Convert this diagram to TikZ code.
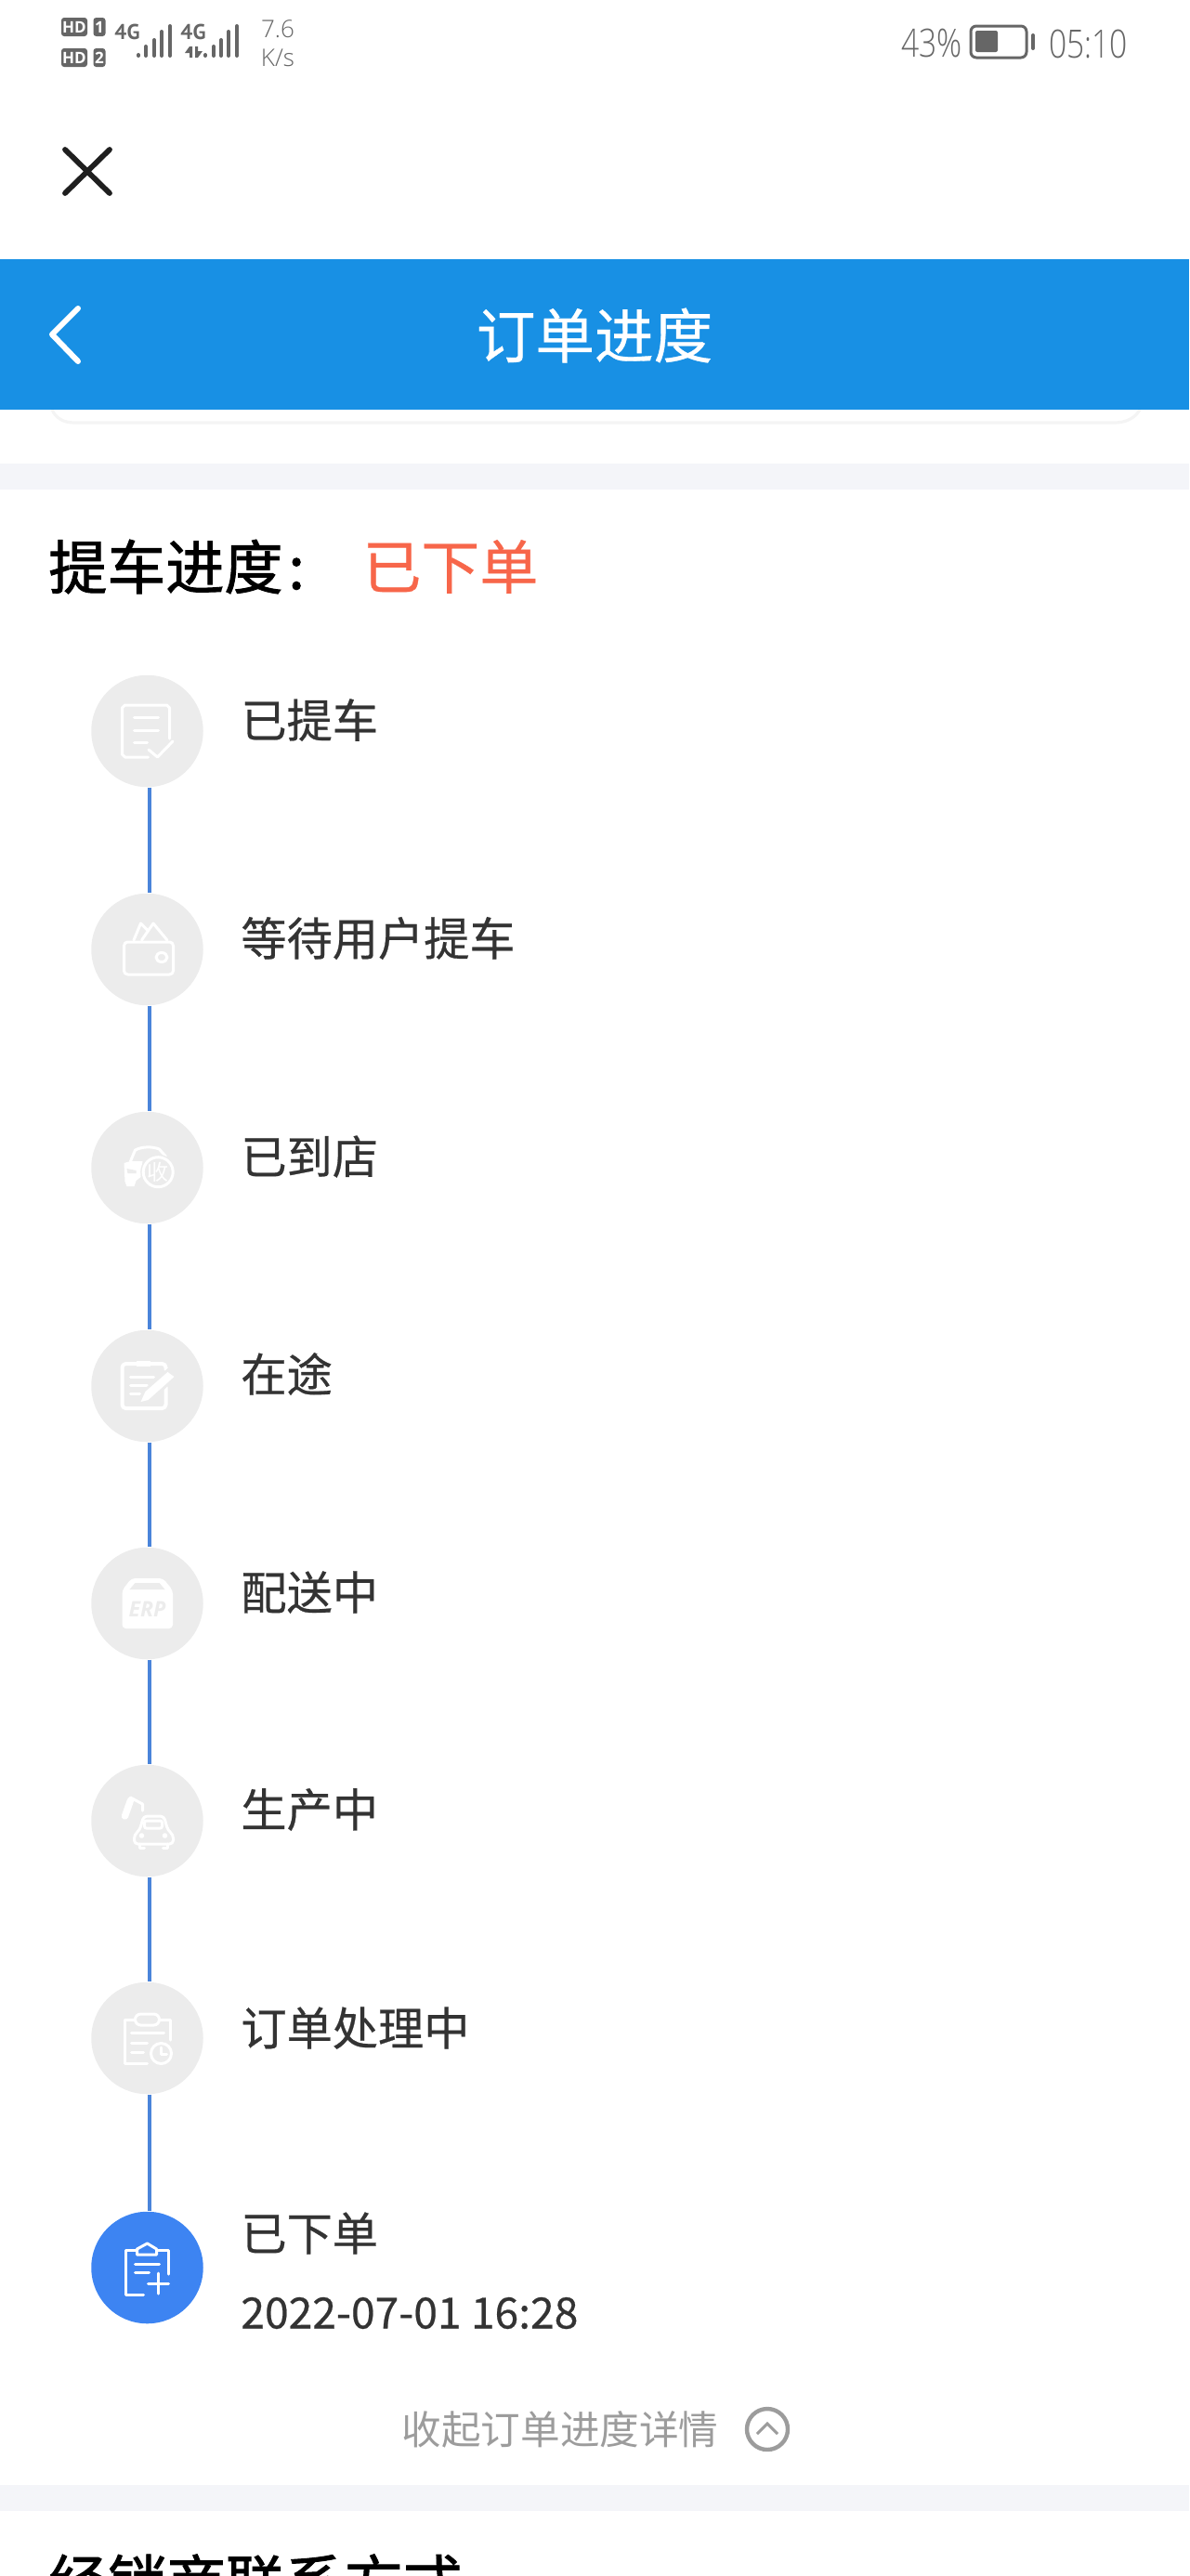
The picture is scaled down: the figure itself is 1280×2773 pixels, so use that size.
\documentclass[tikz,border=0pt]{standalone}
\usepackage{fontspec}
\setmainfont{Open Sans}
\newfontfamily\cjk{Noto Sans CJK SC}
\newfontfamily\cjkmed[FakeBold=0.5]{Noto Sans CJK SC}
\newfontfamily\cjkhead[FakeBold=1.4]{Noto Sans CJK SC}
\newfontfamily\statusfont{Open Sans Light}
\newfontfamily\signalfont{PT Sans}
\newcommand{\pxfont}[1]{\fontsize{#1}{#1}\selectfont}
\definecolor{barblue}{HTML}{1890E4}
\definecolor{bandgrey}{HTML}{F4F5F9}
\definecolor{cardgrey}{HTML}{F4F4F4}
\definecolor{stepgrey}{HTML}{ECECEC}
\definecolor{stepblue}{HTML}{3D84F2}
\definecolor{edgeblue}{HTML}{4A84DA}
\definecolor{statusgrey}{HTML}{666666}
\definecolor{textdark}{HTML}{333333}
\definecolor{redtext}{HTML}{F7664A}
\tikzset{
  stepdot/.style={circle, fill=stepgrey, minimum size=120.5pt*0.5, inner sep=0pt},
  steptext/.style={anchor=west, inner sep=0pt, text=textdark, font=\cjkmed\pxfont{24.6}},
  stepedge/.style={edgeblue, line width=2pt},
  iconline/.style={white, line width=1.5pt, line cap=round, line join=round},
  iconfill/.style={white, fill=white, line width=1pt, line join=round},
  signal/.style={statusgrey, line width=2pt, line cap=round},
  signaltext/.style={inner sep=0pt, text=statusgrey, font=\signalfont\bfseries\pxfont{11.5}},
  hdbadge/.style={fill=statusgrey, rounded corners=1.5pt, inner sep=0pt, text=white, font=\bfseries\pxfont{8.5}},
  statustext/.style={inner sep=0pt, text=statusgrey, font=\statusfont\pxfont{21}, xscale=0.8, transform shape},
  speedtext/.style={inner sep=0pt, text=statusgrey, font=\statusfont\pxfont{13}},
}
\begin{document}
\begin{tikzpicture}[x=0.5pt, y=-0.5pt]
  \useasboundingbox (0,0) rectangle (1280,2773);
  \clip (0,0) rectangle (1280,2773);

  % Status bar
  \node[hdbadge, minimum width=14pt, minimum height=10pt] (hdone) at (80,29) {HD};
  \node[hdbadge, minimum width=6.5pt, minimum height=10pt] (simone) at (107,29) {1};
  \node[hdbadge, minimum width=14pt, minimum height=10pt] (hdtwo) at (80,62) {HD};
  \node[hdbadge, minimum width=6.5pt, minimum height=10pt] (simtwo) at (107,62) {2};
  \node[signaltext] (fourgone) at (137,34) {4G};
  \node[signaltext] (fourgtwo) at (208,34) {4G};
  \draw[signal] (149,59) -- (149,60) (157,50) -- (157,60) (166,43) -- (166,60) (174,34) -- (174,60) (183,28) -- (183,60);
  \draw[signal] (221,59) -- (221,60) (230,50) -- (230,60) (238,43) -- (238,60) (246,34) -- (246,60) (255,28) -- (255,60);
  \fill[statusgrey] (204,50) -- (204,62) -- (207,62) -- (207,50) -- cycle (199,57) -- (204,50) -- (204,57) -- cycle;
  \fill[statusgrey] (210,50) -- (210,62) -- (213,62) -- (213,50) -- cycle (213,55) -- (218,55) -- (213,62) -- cycle;
  \node[speedtext] (speed) at (299,31) {7.6};
  \node[speedtext] (unit) at (299,62) {K/s};
  \node[statustext, anchor=east] (percent) at (1036,47) {43\%};
  \node[statustext, anchor=west] (clock) at (1129,47) {05:10};
  \draw[statusgrey, line width=1.5pt, rounded corners=3pt] (1045,28) rectangle (1105,62);
  \fill[statusgrey, rounded corners=1pt] (1050,33) rectangle (1074,56);
  \draw[statusgrey, line width=2pt, line cap=round] (1112,38) -- (1112,52);

  % Close button
  \draw[textdark!60!black, line width=2.9pt, line cap=round] (70,161) -- (118,208) (118,161) -- (70,208);

  % Title bar
  \draw[cardgrey, line width=1.6pt] (56,441) .. controls (60,450) and (68,455) .. (80,455) -- (1200,455) .. controls (1212,455) and (1222,450) .. (1227,441);
  \fill[barblue] (0,279) rectangle (1280,441);
  \node[inner sep=0pt, text=white, font=\cjkmed\pxfont{31.8}] (title) at (640,361) {订单进度};
  \draw[white, line width=3pt, line cap=round, line join=round] (84,332) -- (56,360) -- (84,389);

  % Bands
  \fill[bandgrey] (0,499) rectangle (1280,527);
  \fill[bandgrey] (0,2675) rectangle (1280,2703);

  % Heading
  \node[anchor=west, inner sep=0pt, text=black, font=\cjkhead\pxfont{31.5}] (heading) at (52,610) {提车进度\kern3pt:};
  \node[anchor=west, inner sep=0pt, text=redtext, font=\cjkmed\pxfont{31.5}] (state) at (390,610) {已下单};

  % Nodes
  \node[stepdot] (picked) at (158.5,787) {};
  \node[stepdot] (waiting) at (158.5,1022) {};
  \node[stepdot] (arrived) at (158.5,1257) {};
  \node[stepdot] (transit) at (158.5,1492) {};
  \node[stepdot] (delivery) at (158.5,1726) {};
  \node[stepdot] (production) at (158.5,1960) {};
  \node[stepdot] (processing) at (158.5,2194) {};
  \node[stepdot, fill=stepblue] (ordered) at (158.5,2441) {};

  % Labels
  \node[steptext] (pickedtext) at (259,775) {已提车};
  \node[steptext] (waitingtext) at (259,1010) {等待用户提车};
  \node[steptext] (arrivedtext) at (259,1245) {已到店};
  \node[steptext] (transittext) at (259,1479) {在途};
  \node[steptext] (deliverytext) at (259,1714) {配送中};
  \node[steptext] (productiontext) at (259,1948) {生产中};
  \node[steptext] (processingtext) at (259,2183) {订单处理中};
  \node[steptext] (orderedtext) at (259,2404) {已下单};
  \node[steptext, font=\cjkmed\pxfont{23.1}] (orderedtime) at (259,2490) {2022-07-01 16:28};

  % Edges
  \draw[stepedge] ([xshift=1pt]picked.south) -- ([xshift=1pt]waiting.north);
  \draw[stepedge] ([xshift=1pt]waiting.south) -- ([xshift=1pt]arrived.north);
  \draw[stepedge] ([xshift=1pt]arrived.south) -- ([xshift=1pt]transit.north);
  \draw[stepedge] ([xshift=1pt]transit.south) -- ([xshift=1pt]delivery.north);
  \draw[stepedge] ([xshift=1pt]delivery.south) -- ([xshift=1pt]production.north);
  \draw[stepedge] ([xshift=1pt]production.south) -- ([xshift=1pt]processing.north);
  \draw[stepedge] ([xshift=1pt]processing.south) -- ([xshift=1pt]ordered.north);

  % Icons
  \begin{scope}[shift={(picked.center)}]
    \draw[iconline] (1,28) -- (-24,28) -- (-27,25) -- (-27,-25) -- (-24,-28) -- (21,-28) -- (24,-25) -- (24,8);
    \draw[iconline] (-14,-15) -- (12,-15) (-14,-1) -- (12,-1) (-14,12) -- (0,12);
    \draw[iconline] (1.5,20) -- (11,28) -- (27.5,11);
  \end{scope}
  \begin{scope}[shift={(waiting.center)}]
    \draw[iconline, rounded corners=2pt] (-25,-8) rectangle (28,27);
    \draw[iconline] (-14.5,-10) -- (-7,-28) -- (0,-21) (-6,-10) -- (6.5,-28) -- (21.5,-10);
    \draw[iconline] (15.5,8.5) ellipse (6 and 5);
  \end{scope}
  \begin{scope}[shift={(arrived.center)}]
    \draw[iconline] (-18,-7) -- (-13,-19) .. controls (-5,-23) and (5,-23) .. (13,-20) -- (20,-12);
    \fill[white] (-25,-5) -- (-18,-7) -- (-5,-7) -- (-7,10) -- (-12,14) -- (-14,20) -- (-22,20) -- (-24,15) -- cycle;
    \fill[stepgrey] (-22,1) -- (-12,3) -- (-12,6) -- (-21,6) -- cycle;
    \fill[stepgrey] (11.7,4.7) circle (19);
    \draw[iconline] (11.7,4.7) circle (16);
    \node[inner sep=0pt, text=white, font=\cjk\pxfont{11.5}] (arrivedmark) at (11.7,4.7) {收};
  \end{scope}
  \begin{scope}[shift={(transit.center)}]
    \draw[iconline, line width=2pt, rounded corners=2pt] (20,-18) -- (20,-24) -- (-27,-24) -- (-27,24) -- (20,24) -- (20,1);
    \fill[white] (-12,-27) rectangle (3,-21);
    \draw[iconline] (-18,-10) -- (7,-10) (-18,-1) -- (0,-1) (-18,8) -- (-8,8);
    \fill[stepgrey] (-10,19) -- (-5,5) -- (22,-19) -- (33,-10) -- (3,18) -- cycle;
    \fill[white] (-7,17) -- (-2,6) -- (22,-15) -- (29,-10) -- (1,15) -- cycle;
  \end{scope}
  \begin{scope}[shift={(delivery.center)}]
    \fill[white, rounded corners=2pt] (-27,27) -- (-27,-14) -- (-17,-27) -- (17,-27) -- (27.5,-14) -- (27.5,27) -- cycle;
    \fill[stepgrey] (-19,-15) -- (-13,-22) -- (13,-22) -- (19,-15) -- cycle;
    \node[inner sep=0pt, text=stepgrey, font=\bfseries\itshape\pxfont{11.5}] (erp) at (0,6) {ERP};
  \end{scope}
  \begin{scope}[shift={(production.center)}]
    \draw[white, line width=3.7pt, line cap=round] (-24,-5) -- (-18,-22);
    \draw[iconline] (-18,-25) -- (-5,-18) -- (-5,-11);
    \draw[iconline, rounded corners=2pt] (-8,10) -- (-4,-5) -- (18,-5) -- (22,10) -- (28,15) -- (28,25) -- (-14,25) -- (-14,15) -- cycle;
    \draw[iconline, rounded corners=1pt] (-3,8) -- (-3,0) -- (16,0) -- (16,8) -- cycle;
    \draw[iconline] (-8,25) -- (-8,29) -- (-3,29) (17,29) -- (22,29) -- (22,25);
    \draw[iconline] (-6,16) circle (1.5) (19,16) circle (1.5);
  \end{scope}
  \begin{scope}[shift={(processing.center)}]
    \draw[iconline] (0,27) -- (-24.5,27) -- (-24.5,-20) -- (-13,-20) (13,-20) -- (25,-20) -- (25,2);
    \draw[iconline, rounded corners=3pt] (-13,-26) rectangle (13,-14);
    \draw[iconline] (-17,-5.5) -- (18,-5.5) (-17,5) -- (0,5) (-17,15.5) -- (-4,15.5);
    \draw[iconline] (15,16.5) circle (11);
    \draw[iconline] (15,10) -- (15,17) -- (21,17);
  \end{scope}
  \begin{scope}[shift={(ordered.center)}]
    \draw[iconline] (-4,29) -- (-23,29) -- (-23,-19) -- (-11,-19) (10,-19) -- (23,-19) -- (23,7);
    \draw[iconline] (-11,-14) -- (10,-14) -- (10,-20) -- (0,-26) -- (-11,-20) -- cycle;
    \draw[iconline] (-13,-4) -- (13,-4) (-13,5) -- (2,5);
    \draw[iconline] (12,6) -- (12,28) (1,17) -- (23,17);
  \end{scope}

  % Footer
  \node[inner sep=0pt, text=statusgrey!65!white, font=\cjk\pxfont{21.3}] (collapse) at (603,2615) {收起订单进度详情};
  \node[circle, draw=statusgrey!65!white, line width=2.2pt, minimum size=22pt, inner sep=0pt] (collapseicon) at (826,2615) {};
  \draw[statusgrey!65!white, line width=1.5pt] (815,2620) -- (826,2609) -- (837,2620);
  \node[anchor=north west, inner sep=0pt, text=black, font=\cjkhead\pxfont{31.8}] (dealer) at (52,2749) {经销商联系方式};
\end{tikzpicture}
\end{document}
